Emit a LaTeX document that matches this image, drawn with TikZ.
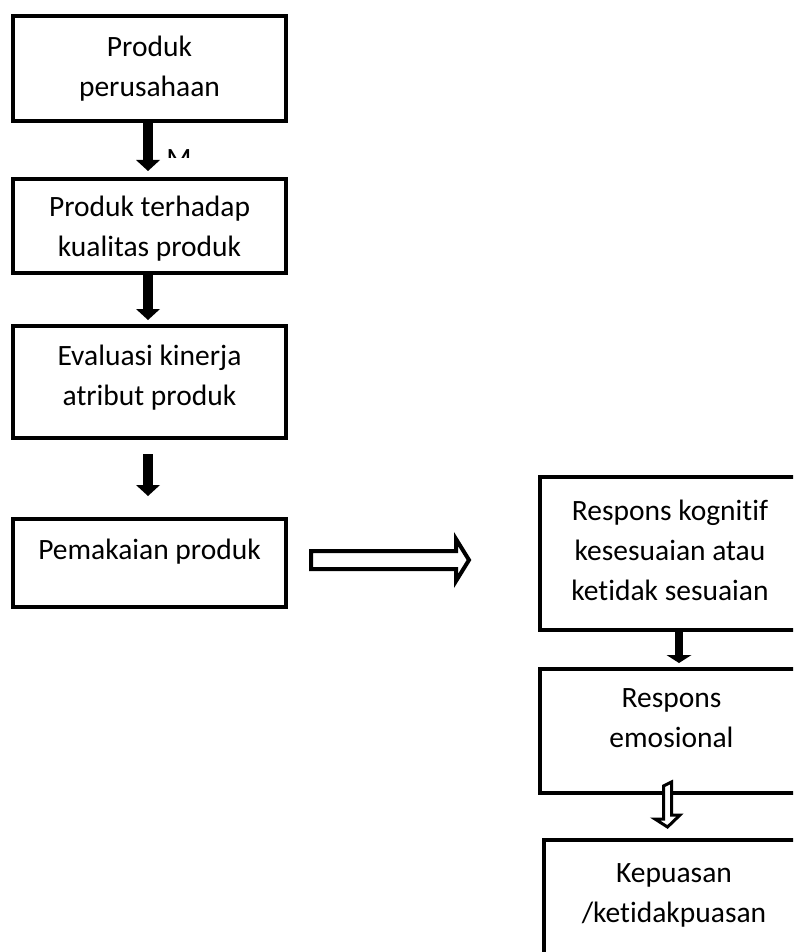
\documentclass[tikz,border=0pt]{standalone}
\usepackage{fontspec}
\setmainfont{Carlito}[Ligatures=NoCommon]
\usetikzlibrary{arrows.meta}
\begin{document}
\begin{tikzpicture}[x=1pt,y=-1pt,
  box/.style={draw=black, line width=4pt, rectangle, inner sep=0pt, minimum width=273pt},
  rbox/.style={draw=black, line width=4pt, rectangle, inner sep=0pt},
  txt/.style={align=center, inner sep=0pt, font=\fontsize{29.5pt}{40pt}\selectfont},
  fat/.style={draw=black, line width=10pt, -{Triangle[width=24pt,length=11pt,line width=0pt]}},
  thin/.style={draw=black, line width=8pt, -{Triangle[width=25pt,length=8pt,line width=0pt]}},
  hollow/.style={draw=black, fill=white, line width=4pt, line join=miter},
  hollowsmall/.style={draw=black, fill=white, line width=3pt, line join=miter}]
\useasboundingbox (0,0) rectangle (793,952);
\clip (0,0) rectangle (793,952);
\fill[white] (0,0) rectangle (793,952);

% left column boxes
\node[box, minimum height=105pt] (b1) at (149.5,68.5) {};
\node[box, minimum height=94pt]  (b2) at (149.5,226) {};
\node[box, minimum height=112pt] (b3) at (149.5,382) {};
\node[box, minimum height=88pt]  (b4) at (149.5,563) {};

% right column boxes
\node[rbox, minimum width=265pt, minimum height=153pt] (rb1) at (672.5,553.5) {};
\node[rbox, minimum width=265pt, minimum height=124pt] (rb2) at (672.5,731) {};
\node[rbox, minimum width=261pt, minimum height=140pt] (rb3) at (674.5,910) {};

% texts
\node[txt] (t1) at (149.5,68.5) {Produk\\perusahaan};
\node[txt] (t2) at (149.5,228.5) {Produk terhadap\\kualitas produk};
\node[txt] (t3) at (149.5,378) {Evaluasi kinerja\\atribut produk};
\node[txt] (t4) at (149.5,552) {Pemakaian produk};
\node[txt] (rt1) at (670,550.5) {Respons kognitif\\kesesuaian atau\\ketidak sesuaian};
\node[txt] (rt2) at (671.5,718) {Respons\\emosional};
\node[txt] (rt3) at (674,895) {Kepuasan\\/ketidakpuasan};

% clipped stray letter
\begin{scope}
\clip (165,149) rectangle (195,158);
\node[txt, anchor=base] (m) at (179,168.7) {M};
\end{scope}

% black arrows
\draw[fat, shorten >=6pt] ([xshift=-1.5pt]b1.south) -- ([xshift=-1.5pt]b2.north);
\draw[fat, shorten >=4pt] ([xshift=-1.5pt]b2.south) -- ([xshift=-1.5pt]b3.north);
\draw[fat, shorten <=14pt, shorten >=21pt] ([xshift=-1.5pt]b3.south) -- ([xshift=-1.5pt]b4.north);
\draw[thin, shorten <=-3pt, shorten >=4pt] ([xshift=6.5pt]rb1.south) -- ([xshift=6.5pt]rb2.north);

% hollow horizontal arrow
\coordinate (hs) at ([xshift=23pt, yshift=3pt]b4.east);
\coordinate (he) at ([xshift=-69pt, yshift=-6.5pt]rb1.west);
\draw[hollow] ([shift={(0,-9)}]hs) -- ([shift={(145,-9)}]hs) -- ([shift={(145,-21)}]hs)
  -- (he) -- ([shift={(145,21)}]hs) -- ([shift={(145,9)}]hs) -- ([shift={(0,9)}]hs) -- cycle;

% hollow small vertical arrow
\coordinate (vs) at ([xshift=-5pt, yshift=9pt]rb2.south);
\coordinate (ve) at ([xshift=-7pt, yshift=11pt]rb3.north);
\draw[hollowsmall] ([xshift=-4pt]vs) -- ++(0,33) -- ++(-8.5,0) -- (ve) -- ++(12.5,-12) -- ++(-8.5,0) -- ++(0,-33) -- cycle;
\end{tikzpicture}
\end{document}
